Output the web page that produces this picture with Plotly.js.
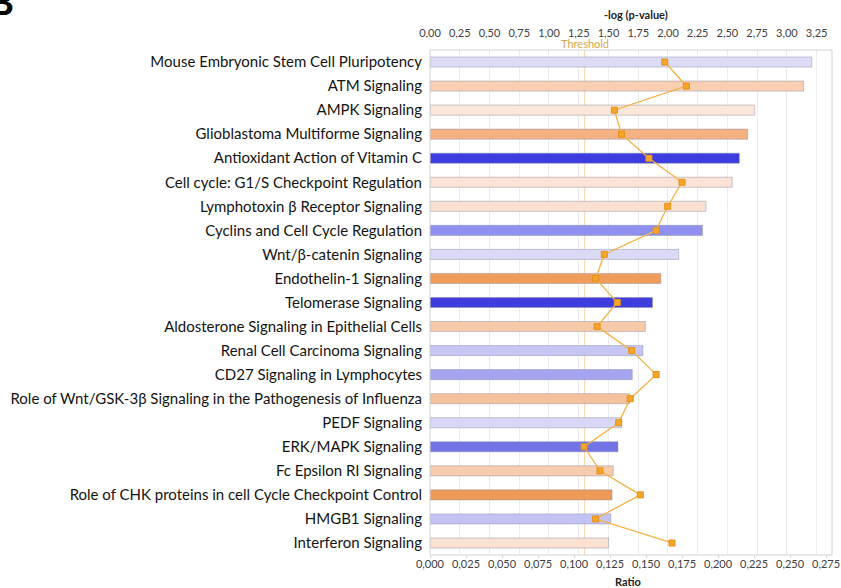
<!DOCTYPE html>
<html>
<head>
<meta charset="utf-8">
<script src="https://cdn.plot.ly/plotly-3.0.1.min.js"></script>
<style>
  html, body { margin: 0; padding: 0; background: #ffffff; }
  #chart { width: 841px; height: 588px; }
</style>
</head>
<body>
<div id="chart"></div>
<script>
// Canonical pathways, listed top to bottom
const pathways = [
  "Mouse Embryonic Stem Cell Pluripotency",
  "ATM Signaling",
  "AMPK Signaling",
  "Glioblastoma Multiforme Signaling",
  "Antioxidant Action of Vitamin C",
  "Cell cycle: G1/S Checkpoint Regulation",
  "Lymphotoxin \u03b2 Receptor Signaling",
  "Cyclins and Cell Cycle Regulation",
  "Wnt/\u03b2-catenin Signaling",
  "Endothelin-1 Signaling",
  "Telomerase Signaling",
  "Aldosterone Signaling in Epithelial Cells",
  "Renal Cell Carcinoma Signaling",
  "CD27 Signaling in Lymphocytes",
  "Role of Wnt/GSK-3\u03b2 Signaling in the Pathogenesis of Influenza",
  "PEDF Signaling",
  "ERK/MAPK Signaling",
  "Fc Epsilon RI Signaling",
  "Role of CHK proteins in cell Cycle Checkpoint Control",
  "HMGB1 Signaling",
  "Interferon Signaling"
];

// -log(p-value) for each pathway (bars, top axis)
const negLogP = [
  3.21, 3.14, 2.73, 2.67, 2.60, 2.54, 2.32, 2.29, 2.09, 1.94, 1.87,
  1.81, 1.79, 1.70, 1.68, 1.61, 1.58, 1.54, 1.53, 1.52, 1.50
];

// Ratio of molecules in the pathway (line, bottom axis)
const ratio = [
  0.163, 0.178, 0.128, 0.133, 0.152, 0.175, 0.165, 0.157, 0.121, 0.115, 0.130,
  0.116, 0.140, 0.157, 0.139, 0.131, 0.107, 0.118, 0.146, 0.115, 0.168
];

// Bar fill per pathway (orange = predicted activation, blue = inhibition)
const barColors = [
  "#dcdcf7", "#f8cfb3", "#fbe6da", "#f4b283", "#3c3ce0", "#fbe3d5", "#fae0d0",
  "#8f8fef", "#dadaf7", "#f09d5c", "#3e3ede", "#f6c9a8", "#c6c6f4", "#a4a4f0",
  "#f5c19c", "#d8d8f6", "#7373e8", "#f6cbae", "#ef9b58", "#c3c3f3", "#fbe1d1"
];

const threshold = 1.3;

const topTicks = [0, 0.25, 0.5, 0.75, 1, 1.25, 1.5, 1.75, 2, 2.25, 2.5, 2.75, 3, 3.25];
const bottomTicks = [0, 0.025, 0.05, 0.075, 0.1, 0.125, 0.15, 0.175, 0.2, 0.225, 0.25, 0.275];

const bars = {
  type: "bar",
  orientation: "h",
  x: negLogP,
  y: pathways,
  xaxis: "x",
  yaxis: "y",
  width: 0.42,
  marker: {
    color: barColors,
    line: { color: "rgba(140,140,160,0.45)", width: 1 }
  },
  hoverinfo: "x+y",
  showlegend: false
};

const ratioLine = {
  type: "scatter",
  mode: "lines+markers",
  x: ratio,
  y: pathways,
  xaxis: "x2",
  yaxis: "y",
  line: { color: "#f2b448", width: 1.3 },
  marker: { symbol: "square", size: 6, color: "#f4a52a", line: { color: "#e3921a", width: 1 } },
  cliponaxis: false,
  showlegend: false
};

const tickFont = { family: "Lato, 'Open Sans', sans-serif", size: 11, color: "#404040" };
const titleFont = { family: "Lato, sans-serif", size: 11, color: "#222" };

// plot area in pixels: x 430..832, y 50..555
const L = 430, R = 832, T = 50, B = 555;
const px = x => (x - L) / (R - L);
const py = y => (B - y) / (B - T);

const layout = {
  width: 841,
  height: 588,
  margin: { l: L, r: 841 - R, t: T, b: 588 - B, pad: 0 },
  paper_bgcolor: "#ffffff",
  plot_bgcolor: "#ffffff",
  separators: ", ",
  font: { family: "Lato, 'Open Sans', sans-serif", color: "#222" },
  xaxis: {
    side: "top",
    range: [0, 3.379],
    tickvals: topTicks,
    tickformat: ".2f",
    tickfont: tickFont,
    automargin: false,
    showgrid: true,
    gridcolor: "#ebebeb",
    gridwidth: 1,
    zeroline: false,
    ticks: "outside",
    ticklen: 1,
    tickcolor: "rgba(0,0,0,0)",
    ticklabelstandoff: 7,
    fixedrange: true
  },
  xaxis2: {
    overlaying: "x",
    side: "bottom",
    anchor: "y",
    range: [0, 0.2791],
    tickvals: bottomTicks,
    tickformat: ".3f",
    tickfont: tickFont,
    automargin: false,
    showgrid: false,
    zeroline: false,
    ticks: "outside",
    ticklen: 2,
    tickcolor: "#cfcfcf",
    ticklabelstandoff: -3,
    fixedrange: true
  },
  yaxis: {
    type: "category",
    range: [pathways.length - 0.5, -0.5],
    autorange: false,
    automargin: false,
    tickfont: { family: "Lato, 'Open Sans', sans-serif", size: 15, color: "#141414" },
    ticks: "outside",
    ticklen: 4,
    tickcolor: "rgba(0,0,0,0)",
    showgrid: false,
    zeroline: false,
    fixedrange: true
  },
  shapes: [
    {
      type: "rect", xref: "paper", yref: "paper", x0: 0, x1: 1, y0: 0, y1: 1,
      line: { color: "#d2d2d2", width: 1 }, layer: "above"
    },
    {
      type: "line", xref: "x", yref: "paper", x0: threshold, x1: threshold, y0: 0, y1: 1,
      line: { color: "#f3d3a2", width: 1 }, layer: "below"
    }
  ],
  annotations: [
    {
      text: "<b>-log (p-value)</b>", xref: "paper", yref: "paper",
      x: px(636), y: py(15), xanchor: "center", yanchor: "middle",
      showarrow: false, font: titleFont
    },
    {
      text: "<b>Ratio</b>", xref: "paper", yref: "paper",
      x: px(628), y: py(581), xanchor: "center", yanchor: "middle",
      showarrow: false, font: titleFont
    },
    {
      text: "Threshold", xref: "x", yref: "paper", x: threshold, y: py(43.5),
      xanchor: "center", yanchor: "middle", showarrow: false,
      font: { family: "Lato, sans-serif", size: 11, color: "#d4a64e" }
    },
    {
      text: "<b>B</b>", xref: "paper", yref: "paper",
      x: px(16), y: py(25),
      xanchor: "right", yanchor: "bottom", showarrow: false,
      font: { family: "Liberation Sans, Arial, sans-serif", size: 36, color: "#000" }
    }
  ]
};

Plotly.newPlot("chart", [bars, ratioLine], layout, { displayModeBar: false, staticPlot: true });
</script>
</body>
</html>
